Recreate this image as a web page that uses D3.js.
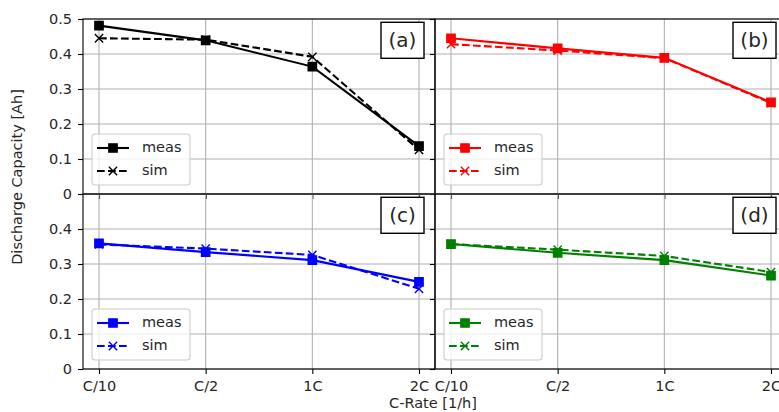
<!DOCTYPE html>
<html>
<head>
<meta charset="utf-8">
<script src="https://cdn.jsdelivr.net/npm/d3@7"></script>
<style>
  body { margin: 0; background: #fff; }
  svg { display: block; font-family: "DejaVu Sans", sans-serif; }
</style>
</head>
<body>
<div id="chart"></div>
<script>
// chart data
var rates = ["C/10", "C/2", "1C", "2C"];
var measA = [0.481, 0.439, 0.364, 0.137];
var simA = [0.445, 0.441, 0.392, 0.126];
var measB = [0.445, 0.416, 0.389, 0.262];
var simB = [0.428, 0.410, 0.388, 0.260];
var measC = [0.359, 0.334, 0.311, 0.249];
var simC = [0.356, 0.344, 0.326, 0.229];
var measD = [0.357, 0.332, 0.311, 0.267];
var simD = [0.357, 0.341, 0.323, 0.277];
var topTicks = [0, 0.1, 0.2, 0.3, 0.4, 0.5];
var bottomTicks = [0, 0.1, 0.2, 0.3, 0.4];
var panelLabels = ["(a)", "(b)", "(c)", "(d)"];
var legendLabels = ["meas", "sim"];
var colors = ["#000000", "#ff0000", "#0000ff", "#008000"];

var svgWidth = 779;
var svgHeight = 412;

// panel grid placement
var panelW = 352;
var panelH = 175;
var marginLeft = 83;
var marginTop = 19;
var fontSize = 14.5;

var svg = d3.select("#chart")
  .append("svg")
  .attr("width", svgWidth)
  .attr("height", svgHeight);

var x = d3.scalePoint()
  .domain(rates)
  .range([0, panelW])
  .padding(0.15);

var y = d3.scaleLinear()
  .domain([0, 0.5])
  .range([panelH, 0]);

var panels = [
  { meas: measA, sim: simA, label: panelLabels[0], color: colors[0], col: 0, row: 0 },
  { meas: measB, sim: simB, label: panelLabels[1], color: colors[1], col: 1, row: 0 },
  { meas: measC, sim: simC, label: panelLabels[2], color: colors[2], col: 0, row: 1 },
  { meas: measD, sim: simD, label: panelLabels[3], color: colors[3], col: 1, row: 1 }
];

function squarePath(s) {
  return `M${-s / 2},${-s / 2}h${s}v${s}h${-s}Z`;
}
function crossPath(s) {
  var h = s / 2;
  return `M${-h},${-h}L${h},${h}M${-h},${h}L${h},${-h}`;
}

var lineGen = d3.line()
  .x((d, i) => x(rates[i]))
  .y(d => y(d));

panels.forEach(function (p) {
  var ticks = p.row === 0 ? topTicks : bottomTicks;
  var g = svg.append("g")
    .attr("transform", `translate(${marginLeft + p.col * panelW}, ${marginTop + p.row * panelH})`);

  // grid
  g.selectAll(".vgrid")
    .data(rates)
    .enter()
    .append("line")
    .attr("x1", d => x(d))
    .attr("x2", d => x(d))
    .attr("y1", 0)
    .attr("y2", panelH)
    .attr("stroke", "#b0b0b0")
    .attr("stroke-width", 1.1);

  g.selectAll(".hgrid")
    .data(topTicks)
    .enter()
    .append("line")
    .attr("x1", 0)
    .attr("x2", panelW)
    .attr("y1", d => y(d))
    .attr("y2", d => y(d))
    .attr("stroke", "#b0b0b0")
    .attr("stroke-width", 1.1);

  // series lines
  g.append("path")
    .datum(p.meas)
    .attr("d", lineGen)
    .attr("fill", "none")
    .attr("stroke", p.color)
    .attr("stroke-width", 2.1);

  g.append("path")
    .datum(p.sim)
    .attr("d", lineGen)
    .attr("fill", "none")
    .attr("stroke", p.color)
    .attr("stroke-width", 2.1)
    .attr("stroke-dasharray", "7.7,3.3");

  g.selectAll(".sq")
    .data(p.meas)
    .enter()
    .append("path")
    .attr("transform", (d, i) => `translate(${x(rates[i])}, ${y(d)})`)
    .attr("d", squarePath(8.3))
    .attr("fill", p.color)
    .attr("stroke", p.color)
    .attr("stroke-width", 1.4);

  g.selectAll(".cr")
    .data(p.sim)
    .enter()
    .append("path")
    .attr("transform", (d, i) => `translate(${x(rates[i])}, ${y(d)})`)
    .attr("d", crossPath(8.3))
    .attr("fill", "none")
    .attr("stroke", p.color)
    .attr("stroke-width", 1.4);

  // axes
  var yAxis = d3.axisLeft(y)
    .tickValues(ticks)
    .tickSize(5)
    .tickSizeOuter(0)
    .tickPadding(6)
    .tickFormat(p.col === 0 ? (d => d === 0 ? "0" : d3.format(".1f")(d)) : "");
  var ya = g.append("g").call(yAxis);

  var xAxis = d3.axisBottom(x)
    .tickSize(5)
    .tickSizeOuter(0)
    .tickPadding(7)
    .tickFormat(p.row === 1 ? (d => d) : "");
  var xa = g.append("g")
    .attr("transform", `translate(0, ${panelH})`)
    .call(xAxis);

  [ya, xa].forEach(function (a) {
    a.select(".domain").remove();
    a.attr("font-family", null).attr("font-size", null);
    a.selectAll("line").attr("stroke", "#000").attr("stroke-width", 1.1);
    a.selectAll("text")
      .style("font-size", fontSize + "px")
      .attr("fill", "#262626");
  });

  // spines
  g.append("rect")
    .attr("width", panelW)
    .attr("height", panelH)
    .attr("fill", "none")
    .attr("stroke", "#000")
    .attr("stroke-width", 1.1);

  // legend
  var leg = g.append("g").attr("transform", "translate(9, 115)");
  leg.append("rect")
    .attr("width", 98)
    .attr("height", 51)
    .attr("rx", 3)
    .attr("fill", "white")
    .attr("fill-opacity", 0.8)
    .attr("stroke", "#cccccc")
    .attr("stroke-width", 1.1);

  legendLabels.forEach(function (name, i) {
    var ry = 14 + i * 23;
    leg.append("line")
      .attr("x1", 5)
      .attr("x2", 37)
      .attr("y1", ry)
      .attr("y2", ry)
      .attr("stroke", p.color)
      .attr("stroke-width", 2.1)
      .attr("stroke-dasharray", i === 1 ? "7.7,3.3" : null);
    leg.append("path")
      .attr("transform", `translate(21, ${ry})`)
      .attr("d", i === 0 ? squarePath(8.3) : crossPath(8.3))
      .attr("fill", i === 0 ? p.color : "none")
      .attr("stroke", p.color)
      .attr("stroke-width", 1.4);
    leg.append("text")
      .attr("x", 50)
      .attr("y", ry + 4)
      .style("font-size", fontSize + "px")
      .attr("fill", "#262626")
      .text(name);
  });

  // panel label
  g.append("rect")
    .attr("x", panelW - 54)
    .attr("y", 3.3)
    .attr("width", 43)
    .attr("height", 36)
    .attr("fill", "white")
    .attr("stroke", "#000")
    .attr("stroke-width", 1.4);
  g.append("text")
    .attr("x", panelW - 32.5)
    .attr("y", 28)
    .style("font-size", "20px")
    .style("text-anchor", "middle")
    .attr("fill", "#262626")
    .text(p.label);
});

svg.append("text")
  .attr("transform", "translate(22, 177) rotate(-90)")
  .style("font-size", fontSize + "px")
  .style("text-anchor", "middle")
  .attr("fill", "#262626")
  .text("Discharge Capacity [Ah]");

svg.append("text")
  .attr("x", 433)
  .attr("y", 408)
  .style("font-size", fontSize + "px")
  .style("text-anchor", "middle")
  .attr("fill", "#262626")
  .text("C-Rate [1/h]");
</script>
</body>
</html>
